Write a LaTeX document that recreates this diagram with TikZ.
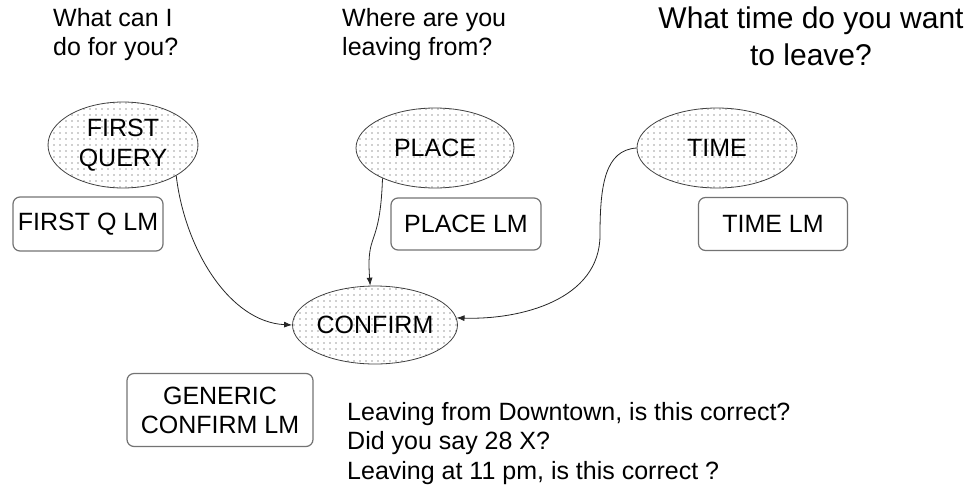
\documentclass[tikz,border=0pt]{standalone}
\usepackage{fontspec}
\setmainfont{Liberation Sans}
\usetikzlibrary{shapes.geometric,patterns,arrows.meta}
\pgfdeclarepatternformonly{sdots}{\pgfqpoint{-1pt}{-1pt}}{\pgfqpoint{1pt}{1pt}}{\pgfqpoint{6pt}{6pt}}{\pgfpathcircle{\pgfqpoint{0pt}{0pt}}{0.6pt}\pgfusepath{fill}}
\begin{document}
\begin{tikzpicture}[x=1pt,y=-1pt,
  state/.style={ellipse, draw=black!75, line width=0.8pt, pattern=sdots, pattern color=black!80,
    inner sep=0pt, align=center, font=\fontsize{25}{30}\selectfont},
  lmbox/.style={rectangle, rounded corners=7pt, draw=black!55, line width=1.2pt, inner sep=0pt,
    align=center, font=\fontsize{25}{29}\selectfont},
  say/.style={inner sep=0pt, align=left, anchor=north west, font=\fontsize{25}{29.5}\selectfont},
  link/.style={draw=black!85, line width=0.8pt, -{Latex[length=8pt,width=6pt]}}]
\useasboundingbox (0,0) rectangle (965,493);

% prompts
\node[say] (p1) at (53,8) {What can I\\do for you?};
\node[say] (p2) at (342,8) {Where are you\\leaving from?};
\node[inner sep=0pt, align=center, anchor=north, font=\fontsize{30}{37}\selectfont] (p3) at (811,7) {What time do you want\\to leave?};

% states
\node[state, minimum width=150pt, minimum height=86pt] (fq) at (123,145) {FIRST\\QUERY};
\node[state, minimum width=158pt, minimum height=80pt] (pl) at (435,148) {PLACE};
\node[state, minimum width=160pt, minimum height=80pt] (tm) at (717,148) {TIME};
\node[state, minimum width=160pt, minimum height=78pt] (cf) at (375,325) {CONFIRM};

% language models
\node[lmbox, minimum width=150pt, minimum height=54pt] (fqlm) at (88,224) {FIRST Q LM};
\node[lmbox, minimum width=150pt, minimum height=52pt] (pllm) at (466,224) {PLACE LM};
\node[lmbox, minimum width=149pt, minimum height=53pt] (tmlm) at (773,224) {TIME LM};
\node[lmbox, minimum width=186pt, minimum height=73pt] (cflm) at (220,410) {GENERIC\\CONFIRM LM};

% confirmations
\node[say] (ex) at (347,402) {Leaving from Downtown, is this correct?\\Did you say 28 X?\\Leaving at 11 pm, is this correct ?};

% connectors
\draw[link] (fq.-30) .. controls (185,250) and (230,322) .. (cf.west);
\draw[link] (pl.-150) .. controls (380,250) and (366,230) .. (cf.97);
\draw[link] (tm.west) .. controls (605,150) and (600,185) .. (600,235)
  .. controls (600,300) and (520,320) .. (cf.5);
\end{tikzpicture}
\end{document}
